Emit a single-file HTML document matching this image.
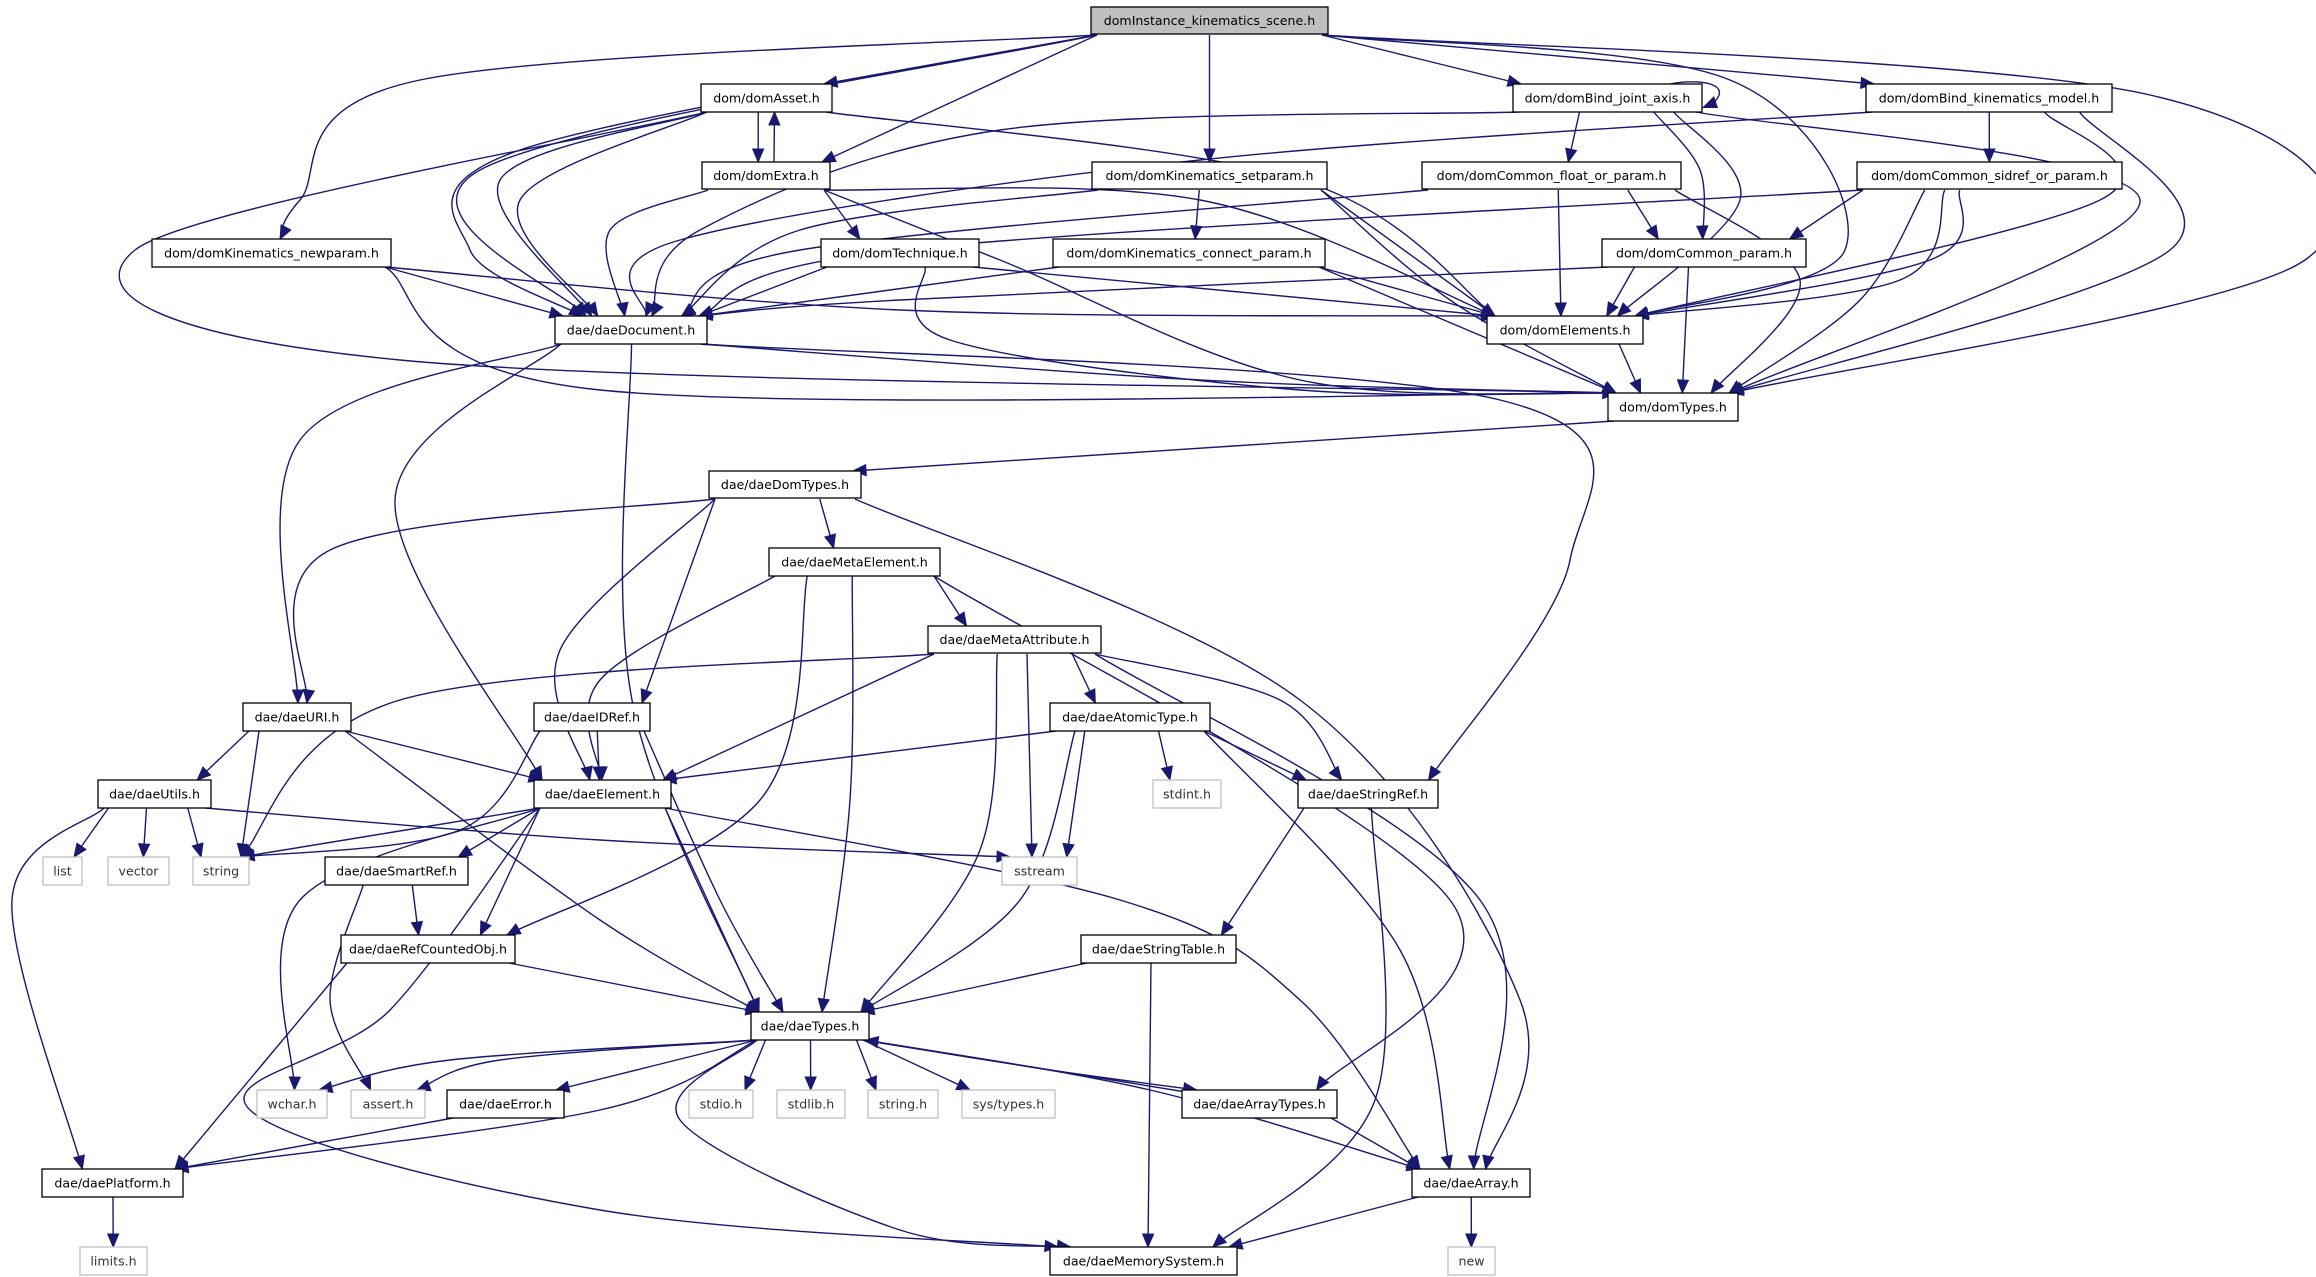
<!DOCTYPE html>
<html><head><meta charset="utf-8"><style>
html,body{margin:0;padding:0;background:#fff;}
svg{display:block;}
text{font-family:"DejaVu Sans","Liberation Sans",sans-serif;font-size:12.6px;}
</style></head><body>
<svg id="g" xmlns="http://www.w3.org/2000/svg" width="2316" height="1277" viewBox="0 0 2316 1277">
<g id="edges"></g>
<g id="nodes">
<rect x="1091" y="7" width="237" height="27" fill="#bfbfbf" stroke="#000" stroke-width="1.3"/><text x="1209.5" y="25" text-anchor="middle">domInstance_kinematics_scene.h</text>
<rect x="701" y="84" width="131" height="28" fill="#fff" stroke="#000" stroke-width="1.3"/><text x="766.5" y="102.5" text-anchor="middle">dom/domAsset.h</text>
<rect x="702" y="162" width="128" height="27" fill="#fff" stroke="#000" stroke-width="1.3"/><text x="766" y="180" text-anchor="middle">dom/domExtra.h</text>
<rect x="1513" y="84" width="189" height="28" fill="#fff" stroke="#000" stroke-width="1.3"/><text x="1607.5" y="102.5" text-anchor="middle">dom/domBind_joint_axis.h</text>
<rect x="1866" y="84" width="246" height="28" fill="#fff" stroke="#000" stroke-width="1.3"/><text x="1989" y="102.5" text-anchor="middle">dom/domBind_kinematics_model.h</text>
<rect x="152" y="239" width="239" height="28" fill="#fff" stroke="#000" stroke-width="1.3"/><text x="271.5" y="257.5" text-anchor="middle">dom/domKinematics_newparam.h</text>
<rect x="1092" y="162" width="235" height="27" fill="#fff" stroke="#000" stroke-width="1.3"/><text x="1209.5" y="180" text-anchor="middle">dom/domKinematics_setparam.h</text>
<rect x="1422" y="162" width="259" height="27" fill="#fff" stroke="#000" stroke-width="1.3"/><text x="1551.5" y="180" text-anchor="middle">dom/domCommon_float_or_param.h</text>
<rect x="1857" y="162" width="265" height="27" fill="#fff" stroke="#000" stroke-width="1.3"/><text x="1989.5" y="180" text-anchor="middle">dom/domCommon_sidref_or_param.h</text>
<rect x="821" y="239" width="158" height="28" fill="#fff" stroke="#000" stroke-width="1.3"/><text x="900" y="257.5" text-anchor="middle">dom/domTechnique.h</text>
<rect x="1053" y="239" width="272" height="28" fill="#fff" stroke="#000" stroke-width="1.3"/><text x="1189" y="257.5" text-anchor="middle">dom/domKinematics_connect_param.h</text>
<rect x="1602" y="239" width="204" height="28" fill="#fff" stroke="#000" stroke-width="1.3"/><text x="1704" y="257.5" text-anchor="middle">dom/domCommon_param.h</text>
<rect x="555" y="316" width="152" height="28" fill="#fff" stroke="#000" stroke-width="1.3"/><text x="631" y="334.5" text-anchor="middle">dae/daeDocument.h</text>
<rect x="1487" y="316" width="156" height="28" fill="#fff" stroke="#000" stroke-width="1.3"/><text x="1565" y="334.5" text-anchor="middle">dom/domElements.h</text>
<rect x="1608" y="393" width="130" height="28" fill="#fff" stroke="#000" stroke-width="1.3"/><text x="1673" y="411.5" text-anchor="middle">dom/domTypes.h</text>
<rect x="709" y="471" width="152" height="27" fill="#fff" stroke="#000" stroke-width="1.3"/><text x="785" y="489" text-anchor="middle">dae/daeDomTypes.h</text>
<rect x="769" y="548" width="171" height="28" fill="#fff" stroke="#000" stroke-width="1.3"/><text x="854.5" y="566.5" text-anchor="middle">dae/daeMetaElement.h</text>
<rect x="928" y="626" width="173" height="27" fill="#fff" stroke="#000" stroke-width="1.3"/><text x="1014.5" y="644" text-anchor="middle">dae/daeMetaAttribute.h</text>
<rect x="243" y="703" width="108" height="28" fill="#fff" stroke="#000" stroke-width="1.3"/><text x="297" y="721.5" text-anchor="middle">dae/daeURI.h</text>
<rect x="534" y="703" width="116" height="28" fill="#fff" stroke="#000" stroke-width="1.3"/><text x="592" y="721.5" text-anchor="middle">dae/daeIDRef.h</text>
<rect x="1050" y="703" width="160" height="28" fill="#fff" stroke="#000" stroke-width="1.3"/><text x="1130" y="721.5" text-anchor="middle">dae/daeAtomicType.h</text>
<rect x="98" y="780" width="113" height="28" fill="#fff" stroke="#000" stroke-width="1.3"/><text x="154.5" y="798.5" text-anchor="middle">dae/daeUtils.h</text>
<rect x="534" y="780" width="137" height="28" fill="#fff" stroke="#000" stroke-width="1.3"/><text x="602.5" y="798.5" text-anchor="middle">dae/daeElement.h</text>
<rect x="1153" y="780" width="68" height="28" fill="#fff" stroke="#c0c0c0" stroke-width="1.3"/><text x="1187" y="798.5" text-anchor="middle" fill="#333">stdint.h</text>
<rect x="1298" y="780" width="140" height="28" fill="#fff" stroke="#000" stroke-width="1.3"/><text x="1368" y="798.5" text-anchor="middle">dae/daeStringRef.h</text>
<rect x="43" y="857" width="39" height="28" fill="#fff" stroke="#c0c0c0" stroke-width="1.3"/><text x="62.5" y="875.5" text-anchor="middle" fill="#333">list</text>
<rect x="108" y="857" width="61" height="28" fill="#fff" stroke="#c0c0c0" stroke-width="1.3"/><text x="138.5" y="875.5" text-anchor="middle" fill="#333">vector</text>
<rect x="193" y="857" width="56" height="28" fill="#fff" stroke="#c0c0c0" stroke-width="1.3"/><text x="221" y="875.5" text-anchor="middle" fill="#333">string</text>
<rect x="325" y="857" width="143" height="28" fill="#fff" stroke="#000" stroke-width="1.3"/><text x="396.5" y="875.5" text-anchor="middle">dae/daeSmartRef.h</text>
<rect x="1002" y="857" width="75" height="28" fill="#fff" stroke="#c0c0c0" stroke-width="1.3"/><text x="1039.5" y="875.5" text-anchor="middle" fill="#333">sstream</text>
<rect x="341" y="935" width="174" height="28" fill="#fff" stroke="#000" stroke-width="1.3"/><text x="428" y="953.5" text-anchor="middle">dae/daeRefCountedObj.h</text>
<rect x="1081" y="935" width="155" height="28" fill="#fff" stroke="#000" stroke-width="1.3"/><text x="1158.5" y="953.5" text-anchor="middle">dae/daeStringTable.h</text>
<rect x="751" y="1012" width="118" height="28" fill="#fff" stroke="#000" stroke-width="1.3"/><text x="810" y="1030.5" text-anchor="middle">dae/daeTypes.h</text>
<rect x="257" y="1090" width="70" height="28" fill="#fff" stroke="#c0c0c0" stroke-width="1.3"/><text x="292" y="1108.5" text-anchor="middle" fill="#333">wchar.h</text>
<rect x="351" y="1090" width="74" height="28" fill="#fff" stroke="#c0c0c0" stroke-width="1.3"/><text x="388" y="1108.5" text-anchor="middle" fill="#333">assert.h</text>
<rect x="447" y="1090" width="117" height="28" fill="#fff" stroke="#000" stroke-width="1.3"/><text x="505.5" y="1108.5" text-anchor="middle">dae/daeError.h</text>
<rect x="689" y="1090" width="64" height="28" fill="#fff" stroke="#c0c0c0" stroke-width="1.3"/><text x="721" y="1108.5" text-anchor="middle" fill="#333">stdio.h</text>
<rect x="777" y="1090" width="68" height="28" fill="#fff" stroke="#c0c0c0" stroke-width="1.3"/><text x="811" y="1108.5" text-anchor="middle" fill="#333">stdlib.h</text>
<rect x="868" y="1090" width="70" height="28" fill="#fff" stroke="#c0c0c0" stroke-width="1.3"/><text x="903" y="1108.5" text-anchor="middle" fill="#333">string.h</text>
<rect x="962" y="1090" width="93" height="28" fill="#fff" stroke="#c0c0c0" stroke-width="1.3"/><text x="1008.5" y="1108.5" text-anchor="middle" fill="#333">sys/types.h</text>
<rect x="1182" y="1090" width="155" height="28" fill="#fff" stroke="#000" stroke-width="1.3"/><text x="1259.5" y="1108.5" text-anchor="middle">dae/daeArrayTypes.h</text>
<rect x="42" y="1169" width="141" height="28" fill="#fff" stroke="#000" stroke-width="1.3"/><text x="112.5" y="1187.5" text-anchor="middle">dae/daePlatform.h</text>
<rect x="1412" y="1169" width="118" height="28" fill="#fff" stroke="#000" stroke-width="1.3"/><text x="1471" y="1187.5" text-anchor="middle">dae/daeArray.h</text>
<rect x="80" y="1247" width="67" height="28" fill="#fff" stroke="#c0c0c0" stroke-width="1.3"/><text x="113.5" y="1265.5" text-anchor="middle" fill="#333">limits.h</text>
<rect x="1050" y="1247" width="187" height="28" fill="#fff" stroke="#000" stroke-width="1.3"/><text x="1143.5" y="1265.5" text-anchor="middle">dae/daeMemorySystem.h</text>
<rect x="1448" y="1247" width="47" height="28" fill="#fff" stroke="#c0c0c0" stroke-width="1.3"/><text x="1471.5" y="1265.5" text-anchor="middle" fill="#333">new</text>
</g>
</svg>
<script>
var N={
A:[1091,1328,7],B:[701,832,84],C:[702,830,162],D:[1513,1702,84],E:[1866,2112,84],
F:[152,391,239],G:[1092,1327,162],H:[1422,1681,162],I:[1857,2122,162],J:[821,979,239],
K:[1053,1325,239],L:[1602,1806,239],M:[555,707,316],Nn:[1487,1643,316],O:[1608,1738,393],
P:[709,861,471],Q:[769,940,548],R:[928,1101,626],S:[243,351,703],T:[534,650,703],
U:[1050,1210,703],V:[98,211,780],W:[534,671,780],X:[1153,1221,780],Y:[1298,1438,780],
list:[43,82,857],vec:[108,169,857],str:[193,249,857],SR:[325,468,857],ss:[1002,1077,857],
RC:[341,515,935],ST:[1081,1236,935],DT:[751,869,1012],wc:[257,327,1090],as:[351,425,1090],
ER:[447,564,1090],sio:[689,753,1090],slib:[777,845,1090],sh:[868,938,1090],syt:[962,1055,1090],
AT:[1182,1337,1090],PL:[42,183,1169],AR:[1412,1530,1169],lim:[80,147,1247],MS:[1050,1237,1247],nw:[1448,1495,1247]};
var E=[
['A','B'],['A','C'],['A','D'],['A','E'],['A','F',[[420,80],[300,200]]],['A','G'],
['A','M',[[480,170]]],['A','M',[[520,150],[470,250]]],['A','Nn',[[1730,80],[1845,250]]],['A','O',[[2150,95],[2305,260]]],
['B','C',null,-8],['C','B',null,8],['B','M',[[500,180]]],['B','M',[[520,200]]],['B','Nn',[[1300,180]]],['B','O',[[135,250],[400,360]]],
['C','M',[[610,230]]],['C','J'],['C','Nn',[[1200,200]]],['C','O',[[1000,260],[1300,380]]],
['D','H'],['D','L',[[1700,170]]],['D','Nn',[[1740,200]]],['D','M',[[1000,130],[700,230]]],['D','O',[[2140,200]]],
['E','I'],['E','M',[[1200,160],[680,240]]],['E','Nn',[[2100,200]]],['E','O',[[2170,250]]],
['F','M'],['F','Nn',[[900,310]]],['F','O',[[600,390]]],
['G','K'],['G','M',[[800,230]]],['G','Nn'],['G','O',[[1450,300]]],
['H','L'],['H','Nn'],['H','M',[[800,250]]],['H','O',[[1800,280]]],
['I','L'],['I','Nn',[[1930,260]]],['I','Nn',[[1900,280]]],['I','O',[[1860,300]]],['I','M',[[900,250]]],
['J','M'],['J','Nn'],['J','O',[[950,340],[1300,390]]],
['K','M'],['K','Nn'],['K','O'],
['L','M',[[900,300]]],['L','Nn'],['L','O'],
['M','S',[[300,440]]],['M','W',[[395,500]]],['M','DT',[[632,700]]],['M','O',[[1200,380]]],['M','Y',[[1500,400],[1570,560]]],
['Nn','O'],['O','P'],
['P','Q'],['P','S',[[330,550]]],['P','W',[[560,650]]],['P','T'],['P','AR',[[1300,700],[1520,1000]]],
['Q','R'],['Q','W',[[600,680]]],['Q','RC',[[760,800]]],['Q','DT',[[850,800]]],['Q','AT',[[1450,900]]],
['R','str',[[400,700]]],['R','W'],['R','U'],['R','Y',[[1280,700]]],['R','AR',[[1480,900]]],['R','ss'],['R','DT',[[980,850]]],
['S','V'],['S','str'],['S','W'],['S','DT',[[600,920]]],
['T','W'],['T','str',[[460,830]]],['T','DT',[[720,900]]],
['U','W'],['U','X'],['U','Y'],['U','ss'],['U','DT',[[1020,900]]],['U','AR',[[1400,950]]],
['V','list'],['V','vec'],['V','str'],['V','ss',[[600,840]]],['V','PL',[[12,900]]],
['W','str'],['W','SR'],['W','RC'],['W','DT'],['W','AR',[[1120,900],[1300,1000]]],['W','wc',[[300,900]]],['W','MS',[[390,1010],[250,1110],[600,1210]]],
['Y','ST'],['Y','MS',[[1375,1100]]],
['SR','RC'],['SR','as',[[330,1000]]],
['RC','DT'],['RC','PL'],
['ST','DT'],['ST','MS'],
['DT','wc',[[450,1060]]],['DT','as',[[500,1060]]],['DT','ER'],['DT','sio'],['DT','slib'],['DT','sh'],['DT','syt'],
['DT','AT',[[1050,1070]]],['AT','DT',null,0,1],['DT','AR',[[1150,1090]]],['DT','PL',[[600,1110]]],['DT','MS',[[680,1120],[900,1230]]],
['AT','AR'],['ER','PL'],['AR','MS'],['AR','nw'],['PL','lim']];
var ns='http://www.w3.org/2000/svg',G=document.getElementById('edges');
function cx(n){return (n[0]+n[1])/2;}
function clamp(v,a,b){return Math.max(a,Math.min(b,v));}
function catmull(p){var d='M'+p[0][0]+','+p[0][1];for(var i=0;i<p.length-1;i++){var p0=p[i-1]||p[i],p1=p[i],p2=p[i+1],p3=p[i+2]||p2;
d+=' C'+(p1[0]+(p2[0]-p0[0])/6)+','+(p1[1]+(p2[1]-p0[1])/6)+' '+(p2[0]-(p3[0]-p1[0])/6)+','+(p2[1]-(p3[1]-p1[1])/6)+' '+p2[0]+','+p2[1];}return d;}
E.forEach(function(e){var s=N[e[0]],t=N[e[1]],via=e[2]||[],off=e[3]||0,h=28;
var up=t[2]<s[2]||e[4];var sp,tp;
var tx=via.length?via[0][0]:cx(t),sx=via.length?via[via.length-1][0]:cx(s);
if(!up){sp=[clamp(cx(s)+(tx-cx(s))*0.5,s[0]+6,s[1]-6)+off,s[2]+h];tp=[clamp(cx(t)+(sx-cx(t))*0.3,t[0]+8,t[1]-8)+off,t[2]];
 if(t[2]===s[2]){sp=[s[1],s[2]+14];tp=[t[0],t[2]+14];}}
else{sp=[cx(s)+off,s[2]];tp=[cx(t)+off,t[2]+h];if(e[4]){sp=[s[0]+4,s[2]+2];tp=[t[1]-4,t[2]+h];}}
var pts=[sp].concat(via).concat([tp]);
var p=document.createElementNS(ns,'path');p.setAttribute('d',catmull(pts));p.setAttribute('fill','none');p.setAttribute('stroke','#191970');p.setAttribute('stroke-width','1.4');G.appendChild(p);
var prev=pts[pts.length-2],q=pts.length>2?pts[pts.length-2]:prev;var dx=tp[0]-q[0],dy=tp[1]-q[1];
if(pts.length>2){var p0=pts[pts.length-3],p3=tp;dx=tp[0]-(q[0]+(p3[0]-p0[0])/6*0);dy=tp[1]-q[1];}
var L=Math.sqrt(dx*dx+dy*dy)||1;dx/=L;dy/=L;var a=13,w=5.5;
var bx=tp[0]-dx*a,by=tp[1]-dy*a;
var tri=document.createElementNS(ns,'polygon');tri.setAttribute('points',tp[0]+','+tp[1]+' '+(bx-dy*w)+','+(by+dx*w)+' '+(bx+dy*w)+','+(by-dx*w));
tri.setAttribute('fill','#191970');tri.setAttribute('stroke','#191970');G.appendChild(tri);});
// self loop on BindJoint
var sl=document.createElementNS(ns,'path');sl.setAttribute('d','M1670,84 C1700,78 1735,84 1712,104');sl.setAttribute('fill','none');sl.setAttribute('stroke','#191970');sl.setAttribute('stroke-width','1.4');G.appendChild(sl);
var st=document.createElementNS(ns,'polygon');st.setAttribute('points','1702,108 1714,96 1718,108');st.setAttribute('fill','#191970');G.appendChild(st);
</script>
</body></html>
